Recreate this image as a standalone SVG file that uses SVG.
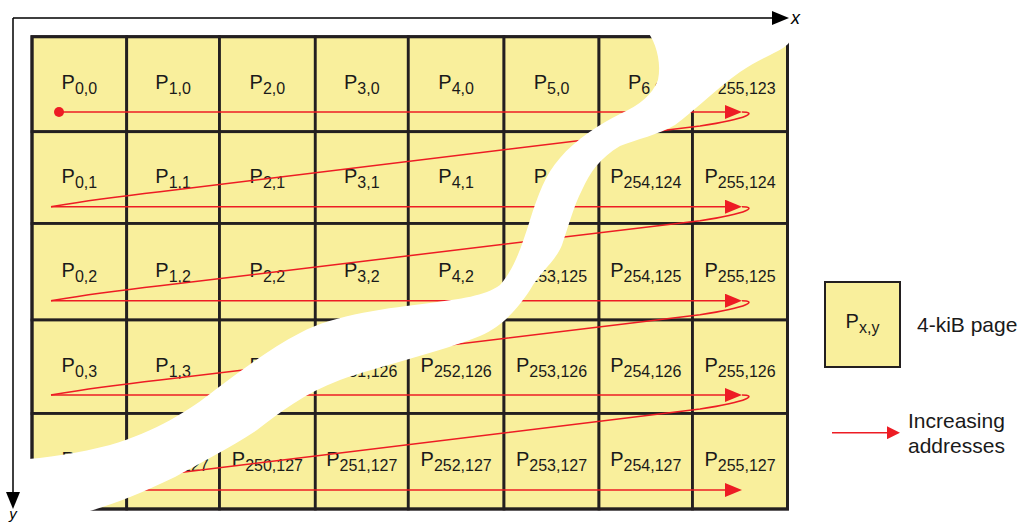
<svg xmlns="http://www.w3.org/2000/svg" width="1023" height="524" viewBox="0 0 1023 524">
<defs>
<style>
.cell rect{fill:#f9ef9c;stroke:#231f20;stroke-width:2.8}
.lbl{font-family:"Liberation Sans",Arial,sans-serif;font-size:20px;fill:#1a1a1a;text-anchor:middle}
.sub{font-size:16px}
.red{fill:none;stroke:#ed1c24;stroke-width:1.5}
.axis{fill:none;stroke:#000;stroke-width:1.5}
.leg{font-family:"Liberation Sans",Arial,sans-serif;font-size:21px;fill:#1a1a1a}
</style>
<marker id="ah" markerUnits="userSpaceOnUse" markerWidth="17" markerHeight="14" viewBox="0 0 17 14" refX="11" refY="7" orient="auto"><path d="M0,0 L17,7 L0,14 Z" fill="#ed1c24"/></marker>
<marker id="ahs" markerUnits="userSpaceOnUse" markerWidth="13" markerHeight="13" viewBox="0 0 13 13" refX="8" refY="6.5" orient="auto"><path d="M0,0 L13,6.5 L0,13 Z" fill="#ed1c24"/></marker>
</defs>
<rect width="1023" height="524" fill="#fff"/>
<g id="cells">
<g id="c0-0" class="cell"><rect x="32" y="36.7" width="94.7" height="95"/><text class="lbl" x="79.35" y="89.3">P<tspan class="sub" dy="5">0,0</tspan></text></g>
<g id="c1-0" class="cell"><rect x="126.7" y="36.7" width="92.8" height="95"/><text class="lbl" x="173.1" y="89.3">P<tspan class="sub" dy="5">1,0</tspan></text></g>
<g id="c2-0" class="cell"><rect x="219.5" y="36.7" width="95.8" height="95"/><text class="lbl" x="267.4" y="89.3">P<tspan class="sub" dy="5">2,0</tspan></text></g>
<g id="c3-0" class="cell"><rect x="315.3" y="36.7" width="93" height="95"/><text class="lbl" x="361.8" y="89.3">P<tspan class="sub" dy="5">3,0</tspan></text></g>
<g id="c4-0" class="cell"><rect x="408.3" y="36.7" width="95.7" height="95"/><text class="lbl" x="456.15" y="89.3">P<tspan class="sub" dy="5">4,0</tspan></text></g>
<g id="c5-0" class="cell"><rect x="504" y="36.7" width="95" height="95"/><text class="lbl" x="551.5" y="89.3">P<tspan class="sub" dy="5">5,0</tspan></text></g>
<g id="c6-0" class="cell"><rect x="599" y="36.7" width="93.5" height="95"/><text class="lbl" x="645.75" y="89.3">P<tspan class="sub" dy="5">6,0</tspan></text></g>
<g id="c7-0" class="cell"><rect x="692.5" y="36.7" width="95" height="95"/><text class="lbl" x="740" y="89.3">P<tspan class="sub" dy="5">255,123</tspan></text></g>

<g id="c0-1" class="cell"><rect x="32" y="131.7" width="94.7" height="91.8"/><text class="lbl" x="79.35" y="183">P<tspan class="sub" dy="5">0,1</tspan></text></g>
<g id="c1-1" class="cell"><rect x="126.7" y="131.7" width="92.8" height="91.8"/><text class="lbl" x="173.1" y="183">P<tspan class="sub" dy="5">1,1</tspan></text></g>
<g id="c2-1" class="cell"><rect x="219.5" y="131.7" width="95.8" height="91.8"/><text class="lbl" x="267.4" y="183">P<tspan class="sub" dy="5">2,1</tspan></text></g>
<g id="c3-1" class="cell"><rect x="315.3" y="131.7" width="93" height="91.8"/><text class="lbl" x="361.8" y="183">P<tspan class="sub" dy="5">3,1</tspan></text></g>
<g id="c4-1" class="cell"><rect x="408.3" y="131.7" width="95.7" height="91.8"/><text class="lbl" x="456.15" y="183">P<tspan class="sub" dy="5">4,1</tspan></text></g>
<g id="c5-1" class="cell"><rect x="504" y="131.7" width="95" height="91.8"/><text class="lbl" x="551.5" y="183">P<tspan class="sub" dy="5">5,1</tspan></text></g>
<g id="c6-1" class="cell"><rect x="599" y="131.7" width="93.5" height="91.8"/><text class="lbl" x="645.75" y="183">P<tspan class="sub" dy="5">254,124</tspan></text></g>
<g id="c7-1" class="cell"><rect x="692.5" y="131.7" width="95" height="91.8"/><text class="lbl" x="740" y="183">P<tspan class="sub" dy="5">255,124</tspan></text></g>

<g id="c0-2" class="cell"><rect x="32" y="223.5" width="94.7" height="96.5"/><text class="lbl" x="79.35" y="276.7">P<tspan class="sub" dy="5">0,2</tspan></text></g>
<g id="c1-2" class="cell"><rect x="126.7" y="223.5" width="92.8" height="96.5"/><text class="lbl" x="173.1" y="276.7">P<tspan class="sub" dy="5">1,2</tspan></text></g>
<g id="c2-2" class="cell"><rect x="219.5" y="223.5" width="95.8" height="96.5"/><text class="lbl" x="267.4" y="276.7">P<tspan class="sub" dy="5">2,2</tspan></text></g>
<g id="c3-2" class="cell"><rect x="315.3" y="223.5" width="93" height="96.5"/><text class="lbl" x="361.8" y="276.7">P<tspan class="sub" dy="5">3,2</tspan></text></g>
<g id="c4-2" class="cell"><rect x="408.3" y="223.5" width="95.7" height="96.5"/><text class="lbl" x="456.15" y="276.7">P<tspan class="sub" dy="5">4,2</tspan></text></g>
<g id="c5-2" class="cell"><rect x="504" y="223.5" width="95" height="96.5"/><text class="lbl" x="551.5" y="276.7">P<tspan class="sub" dy="5">253,125</tspan></text></g>
<g id="c6-2" class="cell"><rect x="599" y="223.5" width="93.5" height="96.5"/><text class="lbl" x="645.75" y="276.7">P<tspan class="sub" dy="5">254,125</tspan></text></g>
<g id="c7-2" class="cell"><rect x="692.5" y="223.5" width="95" height="96.5"/><text class="lbl" x="740" y="276.7">P<tspan class="sub" dy="5">255,125</tspan></text></g>

<g id="c0-3" class="cell"><rect x="32" y="320" width="94.7" height="93.5"/><text class="lbl" x="79.35" y="371.7">P<tspan class="sub" dy="5">0,3</tspan></text></g>
<g id="c1-3" class="cell"><rect x="126.7" y="320" width="92.8" height="93.5"/><text class="lbl" x="173.1" y="371.7">P<tspan class="sub" dy="5">1,3</tspan></text></g>
<g id="c2-3" class="cell"><rect x="219.5" y="320" width="95.8" height="93.5"/><text class="lbl" x="267.4" y="371.7">P<tspan class="sub" dy="5">2,3</tspan></text></g>
<g id="c3-3" class="cell"><rect x="315.3" y="320" width="93" height="93.5"/><text class="lbl" x="361.8" y="371.7">P<tspan class="sub" dy="5">251,126</tspan></text></g>
<g id="c4-3" class="cell"><rect x="408.3" y="320" width="95.7" height="93.5"/><text class="lbl" x="456.15" y="371.7">P<tspan class="sub" dy="5">252,126</tspan></text></g>
<g id="c5-3" class="cell"><rect x="504" y="320" width="95" height="93.5"/><text class="lbl" x="551.5" y="371.7">P<tspan class="sub" dy="5">253,126</tspan></text></g>
<g id="c6-3" class="cell"><rect x="599" y="320" width="93.5" height="93.5"/><text class="lbl" x="645.75" y="371.7">P<tspan class="sub" dy="5">254,126</tspan></text></g>
<g id="c7-3" class="cell"><rect x="692.5" y="320" width="95" height="93.5"/><text class="lbl" x="740" y="371.7">P<tspan class="sub" dy="5">255,126</tspan></text></g>

<g id="c0-4" class="cell"><rect x="32" y="413.5" width="94.7" height="95.5"/><text class="lbl" x="79.35" y="465.5">P<tspan class="sub" dy="5">0,4</tspan></text></g>
<g id="c1-4" class="cell"><rect x="126.7" y="413.5" width="92.8" height="95.5"/><text class="lbl" x="173.1" y="465.5">P<tspan class="sub" dy="5">249,127</tspan></text></g>
<g id="c2-4" class="cell"><rect x="219.5" y="413.5" width="95.8" height="95.5"/><text class="lbl" x="267.4" y="465.5">P<tspan class="sub" dy="5">250,127</tspan></text></g>
<g id="c3-4" class="cell"><rect x="315.3" y="413.5" width="93" height="95.5"/><text class="lbl" x="361.8" y="465.5">P<tspan class="sub" dy="5">251,127</tspan></text></g>
<g id="c4-4" class="cell"><rect x="408.3" y="413.5" width="95.7" height="95.5"/><text class="lbl" x="456.15" y="465.5">P<tspan class="sub" dy="5">252,127</tspan></text></g>
<g id="c5-4" class="cell"><rect x="504" y="413.5" width="95" height="95.5"/><text class="lbl" x="551.5" y="465.5">P<tspan class="sub" dy="5">253,127</tspan></text></g>
<g id="c6-4" class="cell"><rect x="599" y="413.5" width="93.5" height="95.5"/><text class="lbl" x="645.75" y="465.5">P<tspan class="sub" dy="5">254,127</tspan></text></g>
<g id="c7-4" class="cell"><rect x="692.5" y="413.5" width="95" height="95.5"/><text class="lbl" x="740" y="465.5">P<tspan class="sub" dy="5">255,127</tspan></text></g>
<rect x="32" y="36.7" width="755.5" height="472.3" fill="none" stroke="#231f20" stroke-width="3"/>
</g>
<g id="connectors">
<circle cx="59" cy="112" r="5" fill="#ed1c24"/>
<path class="red" d="M59,112 H736" marker-end="url(#ah)"/>
<path class="red" d="M742,112 C756,112 752,118 700,126 L160,191.7 C90,199.7 60,205.2 51,206.7"/>
<path class="red" d="M51,206.7 H736" marker-end="url(#ah)"/>
<path class="red" d="M742,206.7 C756,206.7 752,212.7 700,220.7 L160,285.7 C90,293.7 60,299.2 51,300.7"/>
<path class="red" d="M51,300.7 H736" marker-end="url(#ah)"/>
<path class="red" d="M742,300.7 C756,300.7 752,306.7 700,314.7 L160,380 C90,388 60,393.5 51,395"/>
<path class="red" d="M51,395 H736" marker-end="url(#ah)"/>
<path class="red" d="M742,395 C756,395 752,401 700,409 L160,475 C90,483 60,488.5 51,490"/>
<path class="red" d="M51,490 H736" marker-end="url(#ah)"/>
</g>
<path id="break" fill="#fff" d="M645,28 C655,40 662,60 658,80 C652,95 640,105 620,114 C600,124 575,140 560,158 C545,175 538,195 530,220 C522,245 515,268 500,285 C485,296 460,299 430,303 C390,308 335,314 300,333 C270,348 240,372 215,390 C190,410 155,432 110,445 C80,453 45,458 18,460 L18,518 L82,513 C110,506 140,494 175,477 C200,463 230,448 257,430 C280,412 305,393 340,380 C380,366 440,352 480,336 C505,325 520,305 530,290 C540,272 555,262 562,245 C568,228 574,205 582,190 C590,172 600,158 620,146 C635,140 660,134 675,125 C695,110 715,90 740,72 C760,58 780,52 788,44 C793,38 792,30 785,28 Z"/>
<g id="axes">
<path class="axis" d="M13,18 H773 M13,18 V493"/>
<path d="M772,11 L789,18 L772,25 Z" fill="#000"/>
<path d="M6,492 L13,509 L20,492 Z" fill="#000"/>
<text x="791" y="24" font-family="Liberation Sans, Arial, sans-serif" font-size="18" font-style="italic" fill="#000">x</text>
<text x="13" y="519" font-family="Liberation Sans, Arial, sans-serif" font-size="15" font-style="italic" fill="#000" text-anchor="middle">y</text>
</g>
<g id="legend-page">
<rect x="825" y="282" width="75" height="85" fill="#f9ef9c" stroke="#231f20" stroke-width="2"/>
<text class="lbl" x="862.5" y="328.3">P<tspan class="sub" dy="5">x,y</tspan></text>
<text class="leg" x="917" y="331.7">4-kiB page</text>
</g>
<g id="legend-arrow">
<path class="red" d="M832,432.7 H895" marker-end="url(#ahs)"/>
<text class="leg" x="908" y="428">Increasing</text>
<text class="leg" x="908" y="452.7">addresses</text>
</g>
</svg>
